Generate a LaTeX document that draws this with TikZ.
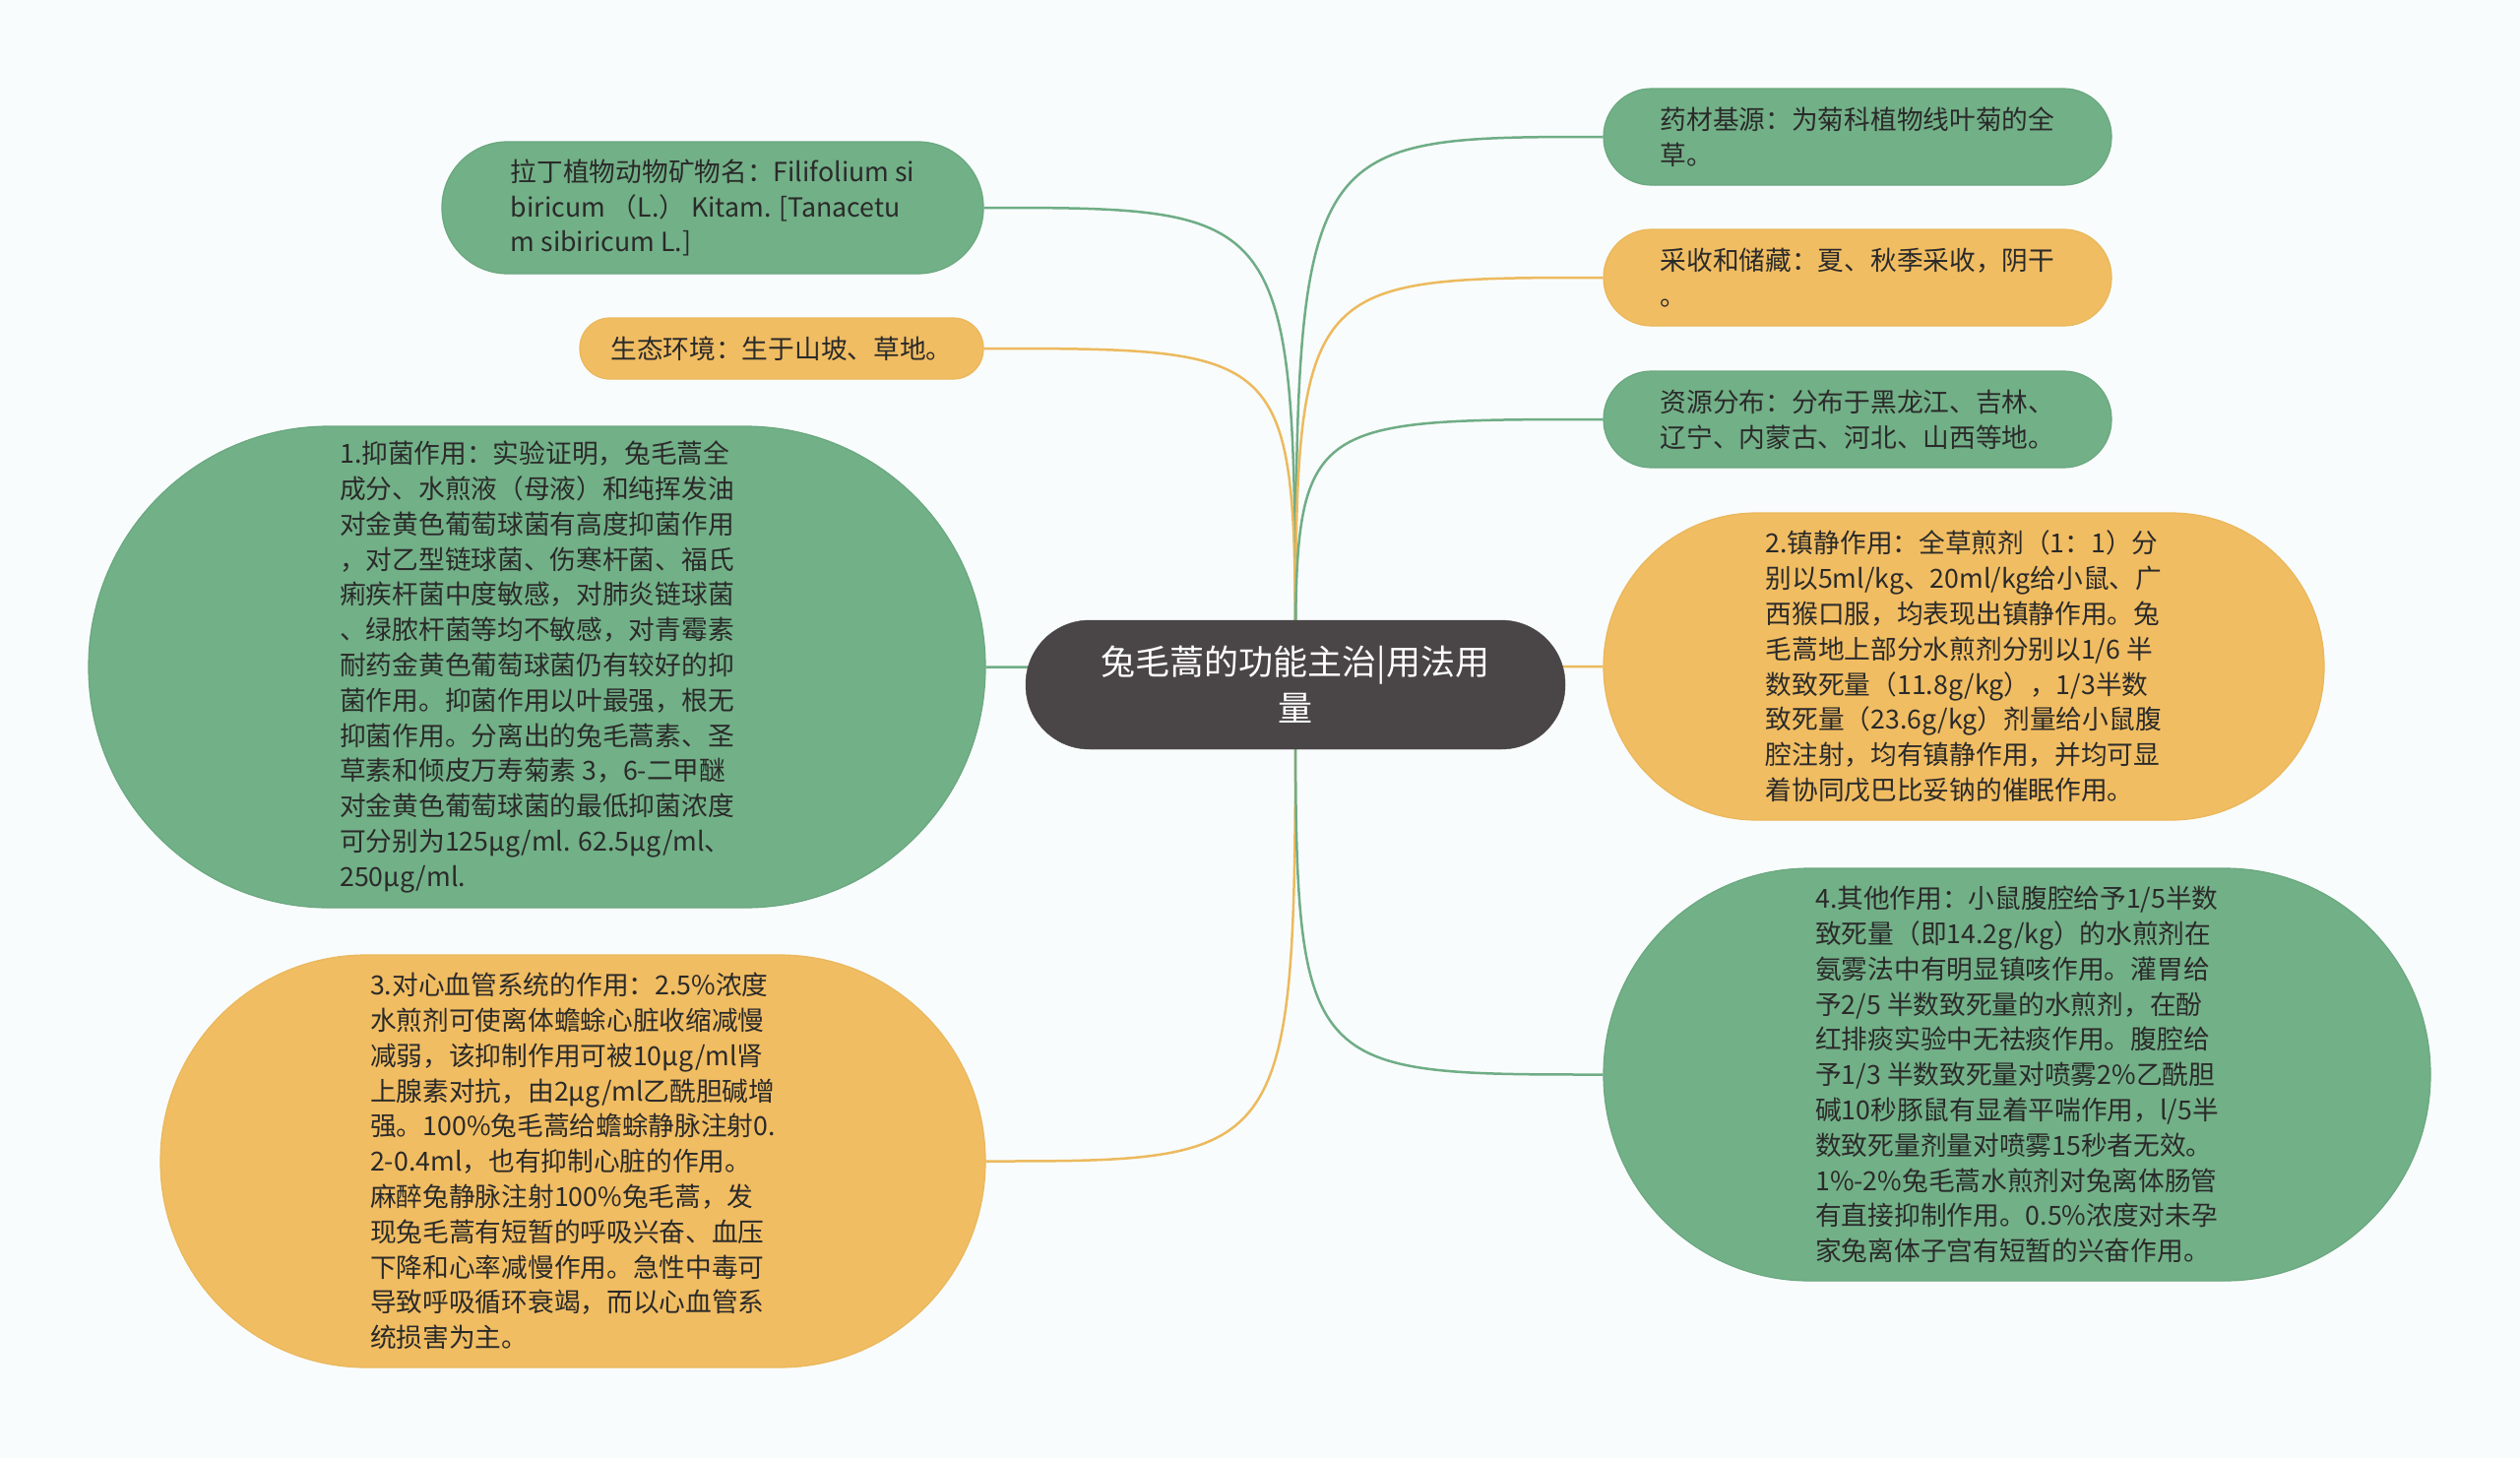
\documentclass[tikz,border=0pt]{standalone}
\usepackage{fontspec}
\setmainfont{Noto Sans CJK SC}
\usetikzlibrary{backgrounds}
\definecolor{bgc}{HTML}{F9FCFC}
\definecolor{gfill}{HTML}{72B087}
\definecolor{gedge}{HTML}{6AA880}
\definecolor{ofill}{HTML}{F1BD62}
\definecolor{oedge}{HTML}{EAB75C}
\definecolor{gcon}{HTML}{6FAD86}
\definecolor{ocon}{HTML}{ECBA5E}
\definecolor{rootc}{HTML}{4A4546}
\definecolor{txt}{HTML}{2A2A2A}
\begin{document}
\begin{tikzpicture}[x=1pt,y=-1pt,
  box/.style={rectangle, inner sep=0pt, align=left, text=txt, font=\fontsize{26.7}{35.8}\selectfont},
  gbox/.style={box, fill=gfill, draw=gedge, line width=1.2pt},
  obox/.style={box, fill=ofill, draw=oedge, line width=1.2pt},
  rootbox/.style={rectangle, inner sep=0pt, align=center, text=white, fill=rootc, draw=rootc,
     font=\fontsize{35}{47}\selectfont},
  gconn/.style={draw=gcon, line width=2.5pt},
  oconn/.style={draw=ocon, line width=2.5pt}]
\useasboundingbox (0,0) rectangle (2560,1481);

\node[rootbox, minimum width=548pt, minimum height=131pt, rounded corners=65pt] (root) at (1316,695.5)
  {兔毛蒿的功能主治|用法用\\量};

\node[gbox, minimum width=550pt, minimum height=134pt, rounded corners=66.5pt] (A) at (724,211)
  {拉丁植物动物矿物名：Filifolium si\\biricum （L.） Kitam. [Tanacetu\\m sibiricum L.]};

\node[obox, minimum width=410pt, minimum height=62pt, rounded corners=30.5pt] (B) at (794,354)
  {生态环境：生于山坡、草地。};

\node[gbox, minimum width=911pt, minimum height=489pt, rounded corners=244pt] (C) at (545.5,677.5)
  {1.抑菌作用：实验证明，兔毛蒿全\\
成分、水煎液（母液）和纯挥发油\\
对金黄色葡萄球菌有高度抑菌作用\\
，对乙型链球菌、伤寒杆菌、福氏\\
痢疾杆菌中度敏感，对肺炎链球菌\\
、绿脓杆菌等均不敏感，对青霉素\\
耐药金黄色葡萄球菌仍有较好的抑\\
菌作用。抑菌作用以叶最强，根无\\
抑菌作用。分离出的兔毛蒿素、圣\\
草素和倾皮万寿菊素 3，6-二甲醚\\
对金黄色葡萄球菌的最低抑菌浓度\\
可分别为125μg/ml. 62.5μg/ml、\\
250μg/ml.};

\node[obox, minimum width=838pt, minimum height=419pt, rounded corners=209pt] (D) at (582,1179.5)
  {3.对心血管系统的作用：2.5\%浓度\\
水煎剂可使离体蟾蜍心脏收缩减慢\\
减弱，该抑制作用可被10μg/ml肾\\
上腺素对抗，由2μg/ml乙酰胆碱增\\
强。100\%兔毛蒿给蟾蜍静脉注射0.\\
2-0.4ml，也有抑制心脏的作用。\\
麻醉兔静脉注射100\%兔毛蒿，发\\
现兔毛蒿有短暂的呼吸兴奋、血压\\
下降和心率减慢作用。急性中毒可\\
导致呼吸循环衰竭，而以心血管系\\
统损害为主。};

\node[gbox, minimum width=516pt, minimum height=98pt, rounded corners=48.5pt] (E) at (1887,139)
  {药材基源：为菊科植物线叶菊的全\\草。};

\node[obox, minimum width=516pt, minimum height=98pt, rounded corners=48.5pt] (F) at (1887,282)
  {采收和储藏：夏、秋季采收，阴干\\。};

\node[gbox, minimum width=516pt, minimum height=98pt, rounded corners=48.5pt] (G) at (1887,426)
  {资源分布：分布于黑龙江、吉林、\\辽宁、内蒙古、河北、山西等地。};

\node[obox, minimum width=732pt, minimum height=312pt, rounded corners=155.5pt] (H) at (1995,677)
  {2.镇静作用：全草煎剂（1：1）分\\
别以5ml/kg、20ml/kg给小鼠、广\\
西猴口服，均表现出镇静作用。兔\\
毛蒿地上部分水煎剂分别以1/6 半\\
数致死量（11.8g/kg），1/3半数\\
致死量（23.6g/kg）剂量给小鼠腹\\
腔注射，均有镇静作用，并均可显\\
着协同戊巴比妥钠的催眠作用。};

\node[gbox, minimum width=840pt, minimum height=419pt, rounded corners=209pt] (I) at (2049,1091.5)
  {4.其他作用：小鼠腹腔给予1/5半数\\
致死量（即14.2g/kg）的水煎剂在\\
氨雾法中有明显镇咳作用。灌胃给\\
予2/5 半数致死量的水煎剂，在酚\\
红排痰实验中无祛痰作用。腹腔给\\
予1/3 半数致死量对喷雾2\%乙酰胆\\
碱10秒豚鼠有显着平喘作用，l/5半\\
数致死量剂量对喷雾15秒者无效。\\
1\%-2\%兔毛蒿水煎剂对兔离体肠管\\
有直接抑制作用。0.5\%浓度对未孕\\
家兔离体子宫有短暂的兴奋作用。};

\begin{scope}[on background layer]
  \fill[bgc] (0,0) rectangle (2560,1481);
  \draw[gconn] (root.center) .. controls (root.center |- A.east) .. (A.east);
  \draw[oconn] (root.center) .. controls (root.center |- B.east) .. (B.east);
  \draw[gconn] (root.center) .. controls (root.center |- C.east) .. (C.east);
  \draw[oconn] (root.center) .. controls (root.center |- D.east) .. (D.east);
  \draw[gconn] (root.center) .. controls (root.center |- E.west) .. (E.west);
  \draw[oconn] (root.center) .. controls (root.center |- F.west) .. (F.west);
  \draw[gconn] (root.center) .. controls (root.center |- G.west) .. (G.west);
  \draw[oconn] (root.center) .. controls (root.center |- H.west) .. (H.west);
  \draw[gconn] (root.center) .. controls (root.center |- I.west) .. (I.west);
\end{scope}
\end{tikzpicture}
\end{document}
